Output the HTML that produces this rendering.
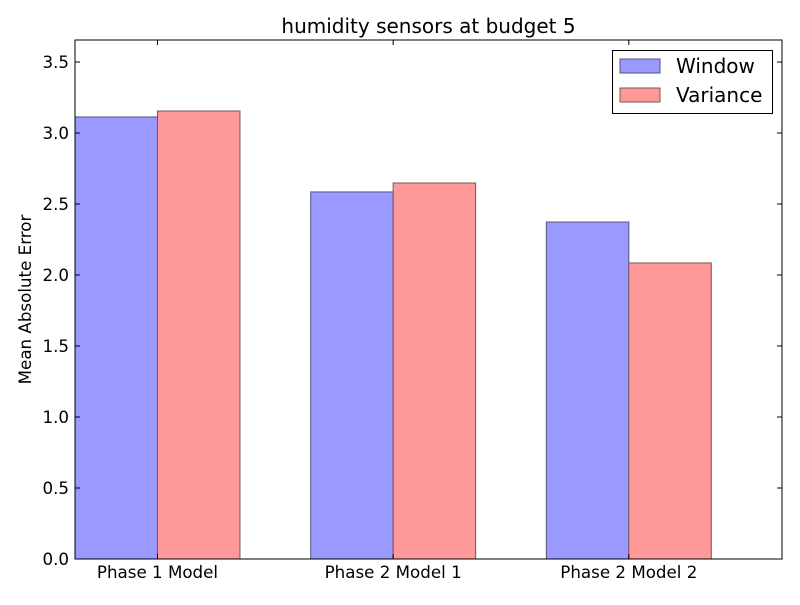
<!DOCTYPE html>
<html><head><meta charset="utf-8"><style>
body{margin:0;background:#fff;}
svg text{font-family:"DejaVu Sans","Liberation Sans",sans-serif;}
</style></head><body>
<svg width="800" height="600" viewBox="0 0 800 600" xmlns="http://www.w3.org/2000/svg">
<rect width="800" height="600" fill="#fff"/>
<g id="plot"></g>
</svg>
<script>
const categories = ["Phase 1 Model","Phase 2 Model 1","Phase 2 Model 2"];
const windowVals = [3.113, 2.585, 2.373];
const varianceVals = [3.155, 2.648, 2.085];
const yTicks = [0,0.5,1.0,1.5,2.0,2.5,3.0,3.5];
const seriesNames = ["Window","Variance"];

const L=75,R=782,T=40,B=559, yMax=3.655, xMax=3, bw=0.35;
const sx=v=>L+(v/xMax)*(R-L);
const sy=v=>B-(v/yMax)*(B-T);
const NS="http://www.w3.org/2000/svg";
const g=document.getElementById('plot');
function mk(tag,attrs,parent){const e=document.createElementNS(NS,tag);for(const k in attrs)e.setAttribute(k,attrs[k]);(parent||g).appendChild(e);return e;}

categories.forEach((c,i)=>{
  const b1=mk('rect',{x:sx(i),y:sy(windowVals[i]),width:sx(i+bw)-sx(i),height:B-sy(windowVals[i]),fill:'#9999ff',stroke:'#555577','stroke-width':1});
  
  
  const b2=mk('rect',{x:sx(i+bw),y:sy(varianceVals[i]),width:sx(i+2*bw)-sx(i+bw),height:B-sy(varianceVals[i]),fill:'#ff9999',stroke:'#775555','stroke-width':1});
  
  
  const t=mk('text',{x:sx(i+bw),y:B+19,'text-anchor':'middle','font-size':16.7,fill:'#000'});
  t.textContent=c;
  
  
  mk('line',{x1:sx(i+bw),x2:sx(i+bw),y1:B,y2:B-5,stroke:'#000'});
  mk('line',{x1:sx(i+bw),x2:sx(i+bw),y1:T,y2:T+5,stroke:'#000'});
});
yTicks.forEach(v=>{
  const y=sy(v);
  mk('line',{x1:L,x2:L+5,y1:y,y2:y,stroke:'#000'});
  mk('line',{x1:R,x2:R-5,y1:y,y2:y,stroke:'#000'});
  const t=mk('text',{x:L-6,y:y+6,'text-anchor':'end','font-size':16.7,fill:'#000'});
  t.textContent=v.toFixed(1);
  
  
});
const frame=mk('rect',{x:L,y:T,width:R-L,height:B-T,fill:'none',stroke:'#000','stroke-width':1});


const title=mk('text',{x:(L+R)/2,y:33,'text-anchor':'middle','font-size':20,fill:'#000'});
title.textContent='humidity sensors at budget 5';


const yl=mk('text',{x:33,y:(T+B)/2,'text-anchor':'middle','font-size':16.7,fill:'#000',transform:`rotate(-90 33 ${(T+B)/2})`});
yl.setAttribute('x',31);
yl.setAttribute('transform',`rotate(-90 31 ${(T+B)/2})`);
yl.textContent='Mean Absolute Error';


const lg=mk('g',{});


mk('rect',{x:612.5,y:50.5,width:160,height:63,fill:'#fff',stroke:'#000'},lg);
const cols=['#9999ff','#ff9999'],strokes=['#555577','#775555'];
seriesNames.forEach((n,i)=>{
  const y=59+i*29;
  const r=mk('rect',{x:620,y:y,width:40,height:14,fill:cols[i],stroke:strokes[i]},lg);
  
  
  const t=mk('text',{x:676,y:y+14,'font-size':20,fill:'#000'},lg);
  t.textContent=n;
  
  
});
</script>
</body></html>
